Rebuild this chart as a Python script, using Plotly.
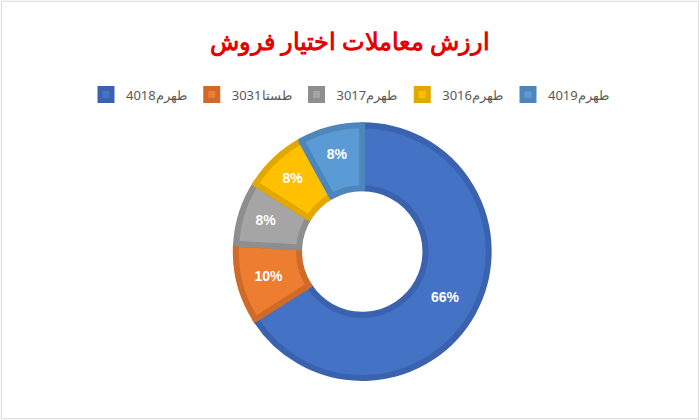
import plotly.graph_objects as go

labels = ["طهرم4018", "طستا3031", "طهرم3017", "طهرم3016", "طهرم4019"]
values = [66, 10, 8, 8, 8]
colors = ["#4472C4", "#ED7D31", "#A5A5A5", "#FFC000", "#5B9BD5"]
borders = ["#3A62AE", "#CF6A28", "#8E8E8E", "#E0A800", "#4D86BA"]

fig = go.Figure(go.Pie(
    labels=labels, values=values, hole=0.5, sort=False, direction="clockwise",
    rotation=0, marker=dict(colors=colors, line=dict(color=borders, width=6)),
    texttemplate="<b>%{percent:.0%}</b>", textposition="inside",
    textfont=dict(color="white", size=14, family="Liberation Sans"),
    insidetextorientation="horizontal",
    domain=dict(x=[0.336, 0.699], y=[0.1, 0.702]),
))
fig.update_layout(
    width=700, height=420, paper_bgcolor="white", plot_bgcolor="white",
    margin=dict(l=0, r=0, t=0, b=0),
    title=dict(text="<b>ارزش معاملات اختیار فروش</b>", x=0.5, y=0.9, xanchor="center", yanchor="middle",
               font=dict(color="#E60000", size=24, family="Noto Sans")),
    legend=dict(orientation="h", x=0.5, xanchor="center", y=0.775, yanchor="middle",
                font=dict(color="#595959", size=13, family="Noto Sans"), traceorder="normal"),
    shapes=[dict(type="rect", xref="paper", yref="paper", x0=0.002, y0=0.003, x1=0.998, y1=0.997,
                 line=dict(color="#D9D9D9", width=1))],
)
fig.write_html("out.html", config={"displayModeBar": False})
with open("out.html", encoding="utf-8") as f:
    html = f.read()
html = html.replace("<body>", '<body style="margin:0">', 1)
with open("out.html", "w", encoding="utf-8") as f:
    f.write(html)
